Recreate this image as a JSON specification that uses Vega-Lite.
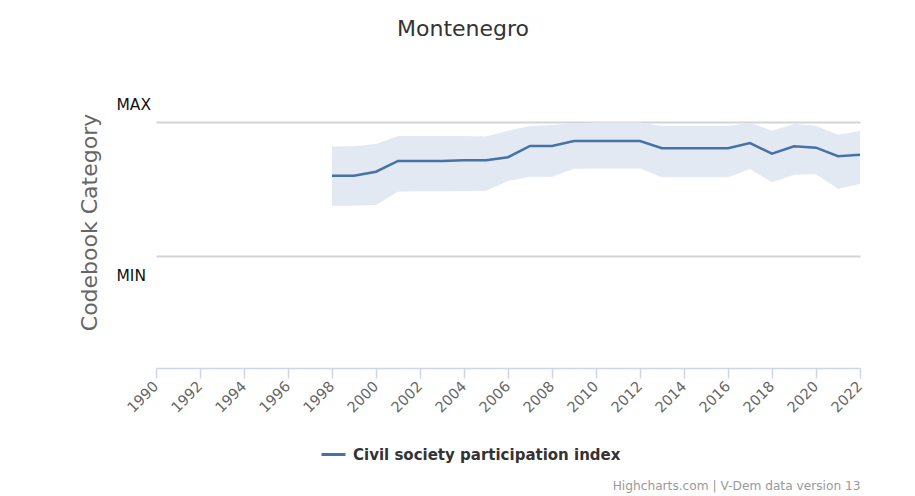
{
  "$schema": "https://vega.github.io/schema/vega-lite/v6.json",
  "width": 704,
  "height": 292,
  "autosize": {"type": "none"},
  "padding": {"left": 156, "top": 76, "right": 55, "bottom": 128},
  "background": "white",
  "config": {"view": {"stroke": null}, "font": "DejaVu Sans"},
  "title": {"text": "Montenegro", "fontSize": 22, "font": "DejaVu Sans", "fontWeight": "normal", "color": "#333333", "anchor": "middle", "dx": -45, "offset": 35},
  "data": {"values": [
    {"year": 1998, "value": 0.599, "lower": 0.375, "upper": 0.816, "series": "Civil society participation index"},
    {"year": 1999, "value": 0.599, "lower": 0.375, "upper": 0.818, "series": "Civil society participation index"},
    {"year": 2000, "value": 0.629, "lower": 0.381, "upper": 0.836, "series": "Civil society participation index"},
    {"year": 2001, "value": 0.709, "lower": 0.480, "upper": 0.896, "series": "Civil society participation index"},
    {"year": 2002, "value": 0.709, "lower": 0.483, "upper": 0.896, "series": "Civil society participation index"},
    {"year": 2003, "value": 0.709, "lower": 0.483, "upper": 0.896, "series": "Civil society participation index"},
    {"year": 2004, "value": 0.714, "lower": 0.485, "upper": 0.895, "series": "Civil society participation index"},
    {"year": 2005, "value": 0.714, "lower": 0.487, "upper": 0.892, "series": "Civil society participation index"},
    {"year": 2006, "value": 0.737, "lower": 0.560, "upper": 0.935, "series": "Civil society participation index"},
    {"year": 2007, "value": 0.821, "lower": 0.592, "upper": 0.970, "series": "Civil society participation index"},
    {"year": 2008, "value": 0.821, "lower": 0.592, "upper": 0.978, "series": "Civil society participation index"},
    {"year": 2009, "value": 0.858, "lower": 0.651, "upper": 0.990, "series": "Civil society participation index"},
    {"year": 2010, "value": 0.858, "lower": 0.653, "upper": 0.996, "series": "Civil society participation index"},
    {"year": 2011, "value": 0.858, "lower": 0.653, "upper": 0.996, "series": "Civil society participation index"},
    {"year": 2012, "value": 0.858, "lower": 0.653, "upper": 0.996, "series": "Civil society participation index"},
    {"year": 2013, "value": 0.804, "lower": 0.587, "upper": 0.970, "series": "Civil society participation index"},
    {"year": 2014, "value": 0.804, "lower": 0.587, "upper": 0.970, "series": "Civil society participation index"},
    {"year": 2015, "value": 0.804, "lower": 0.587, "upper": 0.970, "series": "Civil society participation index"},
    {"year": 2016, "value": 0.804, "lower": 0.587, "upper": 0.970, "series": "Civil society participation index"},
    {"year": 2017, "value": 0.843, "lower": 0.649, "upper": 0.995, "series": "Civil society participation index"},
    {"year": 2018, "value": 0.763, "lower": 0.550, "upper": 0.935, "series": "Civil society participation index"},
    {"year": 2019, "value": 0.819, "lower": 0.607, "upper": 0.985, "series": "Civil society participation index"},
    {"year": 2020, "value": 0.808, "lower": 0.610, "upper": 0.972, "series": "Civil society participation index"},
    {"year": 2021, "value": 0.744, "lower": 0.502, "upper": 0.905, "series": "Civil society participation index"},
    {"year": 2022, "value": 0.756, "lower": 0.537, "upper": 0.933, "series": "Civil society participation index"}
  ]},
  "encoding": {
    "x": {
      "field": "year", "type": "quantitative",
      "scale": {"domain": [1990, 2022], "nice": false, "zero": false},
      "axis": {
        "values": [1990, 1992, 1994, 1996, 1998, 2000, 2002, 2004, 2006, 2008, 2010, 2012, 2014, 2016, 2018, 2020, 2022],
        "format": "d", "grid": false,
        "domainColor": "#ccd6eb", "domainWidth": 1.5,
        "tickColor": "#ccd6eb", "tickSize": 10, "tickWidth": 1.5,
        "labelAngle": -45, "labelAlign": "right", "labelBaseline": "middle",
        "labelFontSize": 14.5, "labelColor": "#666666", "labelFont": "DejaVu Sans", "labelPadding": 6,
        "title": "Highcharts.com | V-Dem data version 13",
        "titleFontSize": 12.2, "titleFontWeight": "normal", "titleColor": "#999999", "titleFont": "DejaVu Sans",
        "titleAnchor": "end", "titleAlign": "right", "titleBaseline": "middle", "titleX": 704, "titleY": 117
      }
    }
  },
  "layer": [
    {
      "mark": {"type": "area", "color": "#e3e9f2", "opacity": 1},
      "encoding": {
        "y": {"field": "lower", "type": "quantitative", "scale": {"domain": [-0.836, 1.343], "nice": false, "zero": false}},
        "y2": {"field": "upper"}
      }
    },
    {
      "mark": {"type": "line", "strokeWidth": 2.5},
      "encoding": {
        "y": {
          "field": "value", "type": "quantitative",
          "axis": {
            "values": [0, 1],
            "labelExpr": "datum.value === 1 ? 'MAX' : 'MIN'",
            "domain": false, "ticks": false, "tickSize": 0,
            "grid": true, "gridColor": "#d4d4d4", "gridWidth": 2,
            "labelAlign": "left", "labelPadding": 40, "labelBaseline": "middle",
            "labelOffset": {"condition": {"test": "datum.value === 1", "value": -17}, "value": 20},
            "labelFontSize": 15.5, "labelColor": "#111111", "labelFont": "DejaVu Sans",
            "title": "Codebook Category",
            "titleFontSize": 22, "titleFontWeight": "normal", "titleColor": "#666666", "titleFont": "DejaVu Sans",
            "titleAngle": -90, "titleAlign": "center", "titleBaseline": "middle", "titleX": -67, "titleY": 146
          }
        },
        "color": {
          "field": "series", "type": "nominal",
          "scale": {"range": ["#4572a7"]},
          "legend": {
            "title": null, "orient": "none", "legendX": 164, "legendY": 365,
            "symbolType": "stroke", "symbolSize": 576, "symbolStrokeWidth": 3,
            "labelFontSize": 15, "labelFontWeight": "bold", "labelColor": "#333333", "labelFont": "DejaVu Sans",
            "labelOffset": 6, "labelLimit": 0
          }
        }
      }
    }
  ]
}
